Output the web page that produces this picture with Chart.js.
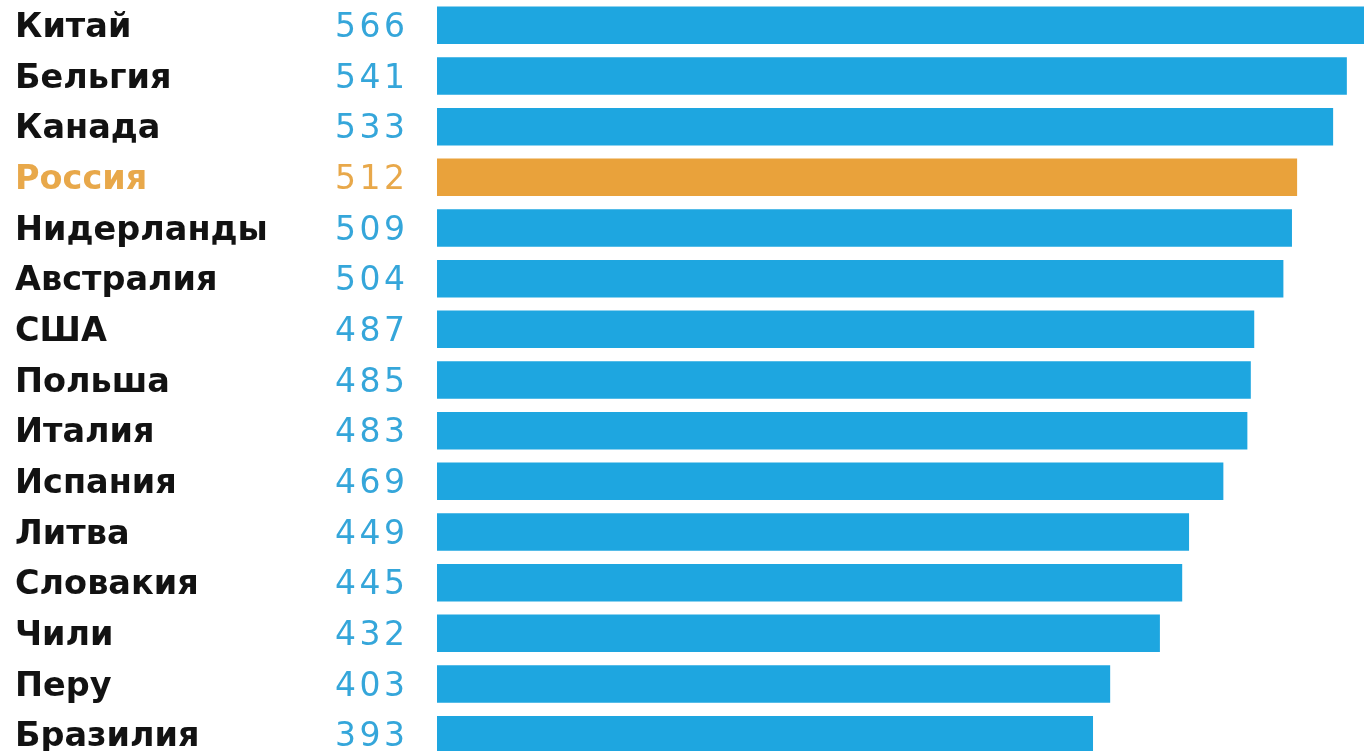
<!DOCTYPE html>
<html>
<head>
<meta charset="utf-8">
<script src="https://cdn.jsdelivr.net/npm/chart.js@4"></script>
<style>
  html, body { margin: 0; padding: 0; background: #fff; overflow: hidden; }
  #wrap { width: 1364px; height: 760px; }
</style>
</head>
<body>
<div id="wrap"><canvas id="myChart" width="1364" height="760"></canvas></div>
<script>
const countries = ['Китай', 'Бельгия', 'Канада', 'Россия', 'Нидерланды', 'Австралия', 'США',
  'Польша', 'Италия', 'Испания', 'Литва', 'Словакия', 'Чили', 'Перу', 'Бразилия'];
const scores = [566, 541, 533, 512, 509, 504, 487, 485, 483, 469, 449, 445, 432, 403, 393];
const highlight = 'Россия';

const blue = '#1ea6e0';
const orange = '#e9a23b';

// country names and score column, placed on the y scale rows
const sideLabels = {
  id: 'sideLabels',
  afterDatasetsDraw(chart) {
    const ctx = chart.ctx;
    const yScale = chart.scales.y;
    ctx.save();
    ctx.textBaseline = 'middle';
    ctx.textAlign = 'left';
    countries.forEach((name, i) => {
      const y = yScale.getPixelForValue(i) + 3;
      const isHl = name === highlight;
      ctx.letterSpacing = '0px';
      ctx.font = 'bold 33.5px "DejaVu Sans"';
      ctx.fillStyle = isHl ? '#e8a84a' : '#121212';
      ctx.fillText(name, 15, y);
      ctx.letterSpacing = '3.5px';
      ctx.font = '33px "DejaVu Sans"';
      ctx.fillStyle = isHl ? '#e8a84a' : '#35a6da';
      ctx.fillText(String(scores[i]), 335, y);
    });
    ctx.restore();
  }
};

const ctx = document.getElementById('myChart').getContext('2d');
const chart = new Chart(ctx, {
  type: 'bar',
  data: {
    labels: countries,
    datasets: [{
      data: scores,
      backgroundColor: countries.map(c => c === highlight ? orange : blue),
      borderWidth: 0,
      barPercentage: 0.74,
      categoryPercentage: 1
    }]
  },
  options: {
    indexAxis: 'y',
    responsive: false,
    animation: false,
    layout: { padding: { left: 437, right: 0, top: 0, bottom: 0 } },
    plugins: { legend: { display: false }, tooltip: { enabled: false } },
    scales: {
      x: { display: false, min: 10.5, max: 551 },
      y: { display: false }
    }
  },
  plugins: [sideLabels]
});
</script>
</body>
</html>
